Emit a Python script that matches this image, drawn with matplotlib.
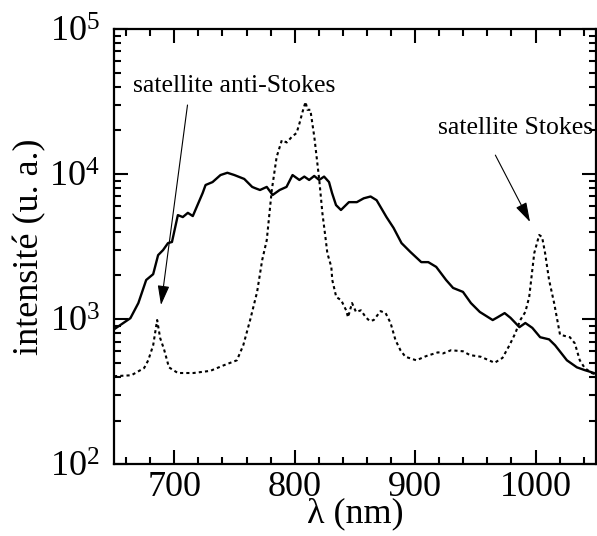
import numpy as np
import matplotlib
matplotlib.use('Agg')
import matplotlib.pyplot as plt
from matplotlib.ticker import LogLocator, MultipleLocator, LogFormatterMathtext, NullFormatter

plt.rcParams['font.family'] = ['Liberation Serif', 'DejaVu Serif']
plt.rcParams['mathtext.fontset'] = 'custom'
plt.rcParams['mathtext.rm'] = 'Liberation Serif'
plt.rcParams['mathtext.it'] = 'Liberation Serif:italic'

# courbe continue
lam_plein = [650, 663.6, 670.2, 676.7, 682.5, 686.6, 690.7, 694.8, 698.1, 703, 707.1, 711.3,
             715.4, 723.6, 726, 731.8, 738.4, 744.1, 749.9, 758.1, 764.7, 767, 771.2, 776.8,
             781.7, 787.5, 793.2, 798.2, 803.9, 808, 812, 816.2, 820.3, 824.4, 828.5, 831,
             834.3, 838.4, 845, 851.6, 857.3, 863, 868, 876.2, 882.1, 888.7, 896.1, 905.1,
             910.9, 917.5, 925.7, 931.5, 939.7, 946.3, 953.7, 964.4, 968.5, 974.3, 979.2,
             986.6, 991.5, 997.3, 1003.8, 1011.2, 1016.2, 1026, 1034.3, 1040.8, 1046.6, 1050]
int_plein = [850, 1015, 1290, 1860, 2040, 2760, 2990, 3340, 3400, 5210, 5050, 5400,
             5130, 7400, 8400, 8800, 9840, 10200, 9840, 9250, 8150, 8000, 7760, 8150,
             7170, 7760, 8150, 9840, 9100, 9600, 9100, 9700, 9100, 9600, 8800, 7400,
             6110, 5650, 6400, 6400, 6800, 7000, 6600, 5050, 4250, 3340, 2900, 2470,
             2470, 2290, 1860, 1640, 1540, 1290, 1120, 985, 1030, 1100, 1020,
             880, 940, 870, 750, 725, 660, 520, 465, 445, 430, 420]

# courbe pointillee
lam_pointille = [650, 664.4, 675, 678.4, 682.5, 685.8, 688.3, 691.5, 695.6, 703, 716, 730,
                 741, 752, 757.3, 763, 768.8, 773, 776.8, 781, 785, 789.3, 793.4, 797.5,
                 801.6, 804, 806.5, 809, 810.6, 813, 816.3, 820.4, 823, 825.5, 827.1, 830.4,
                 831.2, 834.5, 838.6, 842.7, 844.3, 847.6, 850.9, 855, 859, 862.3, 865.6,
                 871.3, 875.5, 879.6, 883.7, 887.8, 891.9, 901, 909.2, 919, 923.2, 929.8,
                 939.7, 945.5, 954.5, 966, 972.5, 978.3, 983.2, 987.3, 991.5, 994.7, 998.9,
                 1003, 1005.4, 1007.9, 1011.2, 1015.4, 1020.3, 1028.5, 1032.6, 1036.7,
                 1040.8, 1046.6, 1050]
int_pointille = [404, 410, 460, 520, 660, 985, 740, 620, 465, 425, 425, 440,
                 480, 520, 660, 985, 1540, 2550, 3500, 7760, 13100, 17100, 16500, 18000,
                 19200, 22400, 26800, 31400, 27700, 27700, 18000, 9100, 5370, 3680, 2850, 2290,
                 1860, 1420, 1350, 1150, 1030, 1290, 1120, 1150, 1030, 970, 985,
                 1135, 1100, 940, 716, 610, 550, 520, 556, 590, 580, 610,
                 600, 565, 550, 500, 540, 660, 800, 985, 1120, 1420, 2850,
                 3800, 3680, 2850, 1860, 1290, 780, 750, 680, 520,
                 460, 425, 415]

fig = plt.figure(figsize=(5.97, 5.36), dpi=100)
ax = fig.add_axes([0.191, 0.134, 0.807, 0.812])

ax.plot(lam_plein, int_plein, color='black', lw=1.7)
ax.plot(lam_pointille, int_pointille, color='black', lw=1.5, linestyle=(0, (1.5, 1.5)))

ax.set_yscale('log')
ax.set_xlim(650, 1050)
ax.set_ylim(1e2, 1e5)

ax.xaxis.set_major_locator(MultipleLocator(100))
ax.xaxis.set_minor_locator(MultipleLocator(20))
ax.yaxis.set_major_locator(LogLocator(base=10))
ax.yaxis.set_minor_locator(LogLocator(base=10, subs=np.arange(2, 10)))
ax.yaxis.set_major_formatter(LogFormatterMathtext())
ax.yaxis.set_minor_formatter(NullFormatter())

ax.tick_params(which='both', direction='in', top=True, right=True, width=1.5, labelsize=26)
ax.tick_params(which='major', length=10)
ax.tick_params(which='minor', length=5)
ax.tick_params(axis='y', pad=10)
ax.tick_params(axis='x', pad=5)
for s in ax.spines.values():
    s.set_linewidth(1.6)

ax.set_xlabel('λ (nm)', fontsize=26, labelpad=-5)
ax.set_ylabel('intensité (u. a.)', fontsize=26, labelpad=2)

fleche = dict(arrowstyle='-|>,head_length=0.6,head_width=0.18', color='black',
              lw=0.8, mutation_scale=20, shrinkA=0, shrinkB=0)
ax.text(749.9, 40400, 'satellite anti-Stokes', fontsize=18.5, ha='center', va='center')
ax.annotate('', xy=(689, 1250), xytext=(711, 29900), arrowprops=fleche)
ax.text(983.2, 20700, 'satellite Stokes', fontsize=18.5, ha='center', va='center')
ax.annotate('', xy=(995.4, 4670), xytext=(966.6, 13500), arrowprops=fleche)

fig.savefig('out.png', dpi=100)
